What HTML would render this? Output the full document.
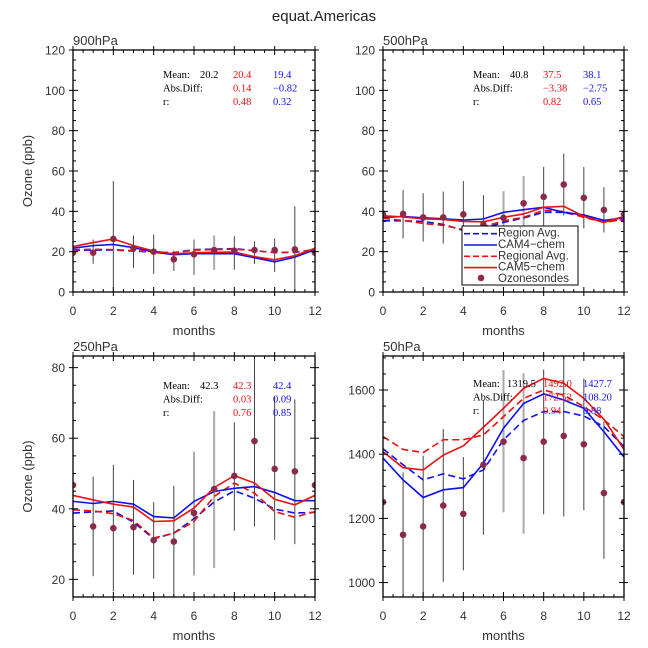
<!DOCTYPE html>
<html><head><meta charset="utf-8"><style>
html,body{margin:0;padding:0;background:#fff;}
svg{display:block;font-family:"Liberation Sans",sans-serif;}
</style></head><body>
<svg id="chart" width="648" height="648" viewBox="0 0 648 648" xmlns="http://www.w3.org/2000/svg">
<rect width="648" height="648" fill="#fff"/>
<text x="324" y="21" text-anchor="middle" font-size="15" fill="#222">equat.Americas</text>
</svg>
<script>
const months = [0,1,2,3,4,5,6,7,8,9,10,11,12];
// 900hPa
const p900Obs = [19.5,19.5,26.3,21.7,20,16.2,18.7,20.8,20.5,20.8,20.8,21.1,19.5];
const p900ErrHi = [null,26,55,28,28.5,20.5,26,28,27.7,25,26.5,42.5,null];
const p900ErrLo = [null,14,0,12,9,10.5,8.5,11,11,14,10,0,null];
const p900Cam5 = [22.5,24.5,26.3,23,20.3,18.9,19.5,19.7,19.8,17.5,16,18,21.7];
const p900Cam4 = [21.7,23,23.6,22,19.8,18.5,19,19,19,17,15,17.3,21];
const p900Cam5Reg = [21,21.2,21,20.5,20,19.3,20.8,21,21.3,20.5,19.5,19.8,21];
const p900Cam4Reg = [20.6,20.8,20.8,20.3,19.8,19.5,21,21.3,21.5,20.5,19.6,19.6,21];
// 500hPa
const p500Obs = [38.5,38.7,37,37,38.5,33.5,36.8,44,47.2,53.3,46.7,40.7,38.5];
const p500ErrHi = [null,50.6,49,49.8,55,48,50,57.5,62,68.6,62,52,null];
const p500ErrLo = [null,26.6,25,24,22,19,23,30,32,38,31.5,29.5,null];
const p500Cam5 = [37.8,37.2,36.3,36,35,34.8,37,38.7,42,42.5,37.5,34.5,37.5];
const p500Cam4 = [37,37.4,36.8,36.3,35.7,36.2,39.5,40.8,42,39.5,38.2,35.5,36.8];
const p500Cam5Reg = [36.5,35.5,34,33,31,32.3,35.3,37,40.5,40,37,34.5,36];
const p500Cam4Reg = [35.3,35.3,35,33.5,30.5,31.6,34.5,36.7,39.5,39.5,37.3,35.5,35.5];
// 250hPa
const p250Obs = [46.7,35,34.5,34.8,31.1,30.7,38.8,45.6,49.3,59.2,51.3,50.6,46.7];
const p250ErrHi = [null,49.1,52.5,48.2,41.9,46.5,56.2,67.7,64.5,83,71.8,71,null];
const p250ErrLo = [null,20.9,16.6,21.3,20.2,15,21.1,23.2,33.8,35,31.2,30,null];
const p250Cam5 = [43.8,42.5,41.3,40.5,36.4,36.6,40.2,46,49.4,47.3,42.7,41.1,43.8];
const p250Cam4 = [42.1,41.5,42.1,41.3,37.8,37.4,42.1,44.9,45.8,46.3,44.6,42.3,42.3];
const p250Cam5Reg = [39.7,39.4,38.6,36.7,31.7,33.1,36.4,43.5,47.3,44.4,39.2,37.6,39.2];
const p250Cam4Reg = [38.8,39.1,39.4,36.2,31.5,33.1,37.2,41.9,45.1,43,39.9,38.8,39];
// 50hPa
const p50Obs = [1251,1149,1175,1240,1214,1367,1439,1388,1439,1457,1431,1279,1251];
const p50ErrHi = [null,1343,1395,1478,1391,1569,1662,1652,1664,1703,1636,1502,null];
const p50ErrLo = [null,930,930,1002,1038,1149,1219,1152,1213,1206,1225,1074,null];
const p50Cam5 = [1408,1358,1351,1397,1426,1484,1543,1605,1636,1621,1574,1509,1415];
const p50Cam4 = [1388,1320,1265,1289,1296,1372,1481,1558,1588,1569,1543,1470,1391];
const p50Cam5Reg = [1455,1415,1405,1445,1445,1460,1517,1574,1600,1584,1548,1507,1455];
const p50Cam4Reg = [1417,1367,1320,1339,1323,1351,1445,1505,1533,1533,1519,1486,1424];
const xTicks = [0,2,4,6,8,10,12];
const yTicks900 = [0,20,40,60,80,100,120];
const yTicks250 = [20,40,60,80];
const yTicks50 = [1000,1200,1400,1600];
const grayBars = [6,7];

const NS='http://www.w3.org/2000/svg';
const svg=document.getElementById('chart');
function mk(tag,attrs,parent){const e=document.createElementNS(NS,tag);for(const k in attrs)e.setAttribute(k,attrs[k]);(parent||svg).appendChild(e);return e;}

function panel(cfg){
  const g=mk('g',{});
  
  
  const {x0,x1,y0,y1,vmin,vmax}=cfg;
  const sx=m=>x0+(x1-x0)*m/12;
  const sy=v=>y1-(y1-y0)*(v-vmin)/(vmax-vmin);
  const clip='clip-'+cfg.name;
  const cp=mk('clipPath',{id:clip},g);mk('rect',{x:x0,y:y0,width:x1-x0,height:y1-y0},cp);
  const pg=mk('g',{'clip-path':'url(#'+clip+')'},g);
  // error bars
  months.forEach((m,i)=>{if(cfg.hi[i]==null)return;
    const l=mk('line',{x1:sx(m),x2:sx(m),y1:sy(cfg.hi[i]),y2:sy(cfg.lo[i]),stroke:grayBars.includes(m)?'#aaa':'#444','stroke-width':grayBars.includes(m)?2:1},pg);
    
    
  });
  const line=(arr,col,dash,nm)=>{const p=mk('polyline',{points:arr.map((v,i)=>sx(months[i])+','+sy(v)).join(' '),fill:'none',stroke:col,'stroke-width':1.6,'stroke-dasharray':dash||'none'},pg);
    
    };
  line(cfg.c4r,'#1010ee','7,4','cam4-regional-line');
  line(cfg.c5r,'#e81010','7,4','cam5-regional-line');
  line(cfg.c4,'#1010ee',null,'cam4-line');
  line(cfg.c5,'#e81010',null,'cam5-line');
  months.forEach((m,i)=>{const c=mk('circle',{cx:sx(m),cy:sy(cfg.obs[i]),r:3.3,fill:'#8c2a4c'},pg);
    
    });
  // frame
  mk('rect',{x:x0,y:y0,width:x1-x0,height:y1-y0,fill:'none',stroke:'#000','stroke-width':1.3},g);
  // x ticks
  for(let m=0;m<=12;m+=0.5){const maj=xTicks.includes(m);const L=maj?5:3;
    mk('line',{x1:sx(m),x2:sx(m),y1:y1-L,y2:y1+(maj?4:0),stroke:'#000'},g);
    mk('line',{x1:sx(m),x2:sx(m),y1:y0+L,y2:y0-(maj?4:0),stroke:'#000'},g);}
  xTicks.forEach(m=>{const t=mk('text',{x:sx(m),y:y1+23,'text-anchor':'middle','font-size':12,fill:'#333'},g);t.textContent=m;
    
    });
  for(let v=Math.ceil(vmin/cfg.minor)*cfg.minor;v<=vmax;v+=cfg.minor){const maj=cfg.yt.includes(v);const L=maj?5:3;
    mk('line',{x1:x0-(maj?4:0),x2:x0+L,y1:sy(v),y2:sy(v),stroke:'#000'},g);
    mk('line',{x1:x1+(maj?4:0),x2:x1-L,y1:sy(v),y2:sy(v),stroke:'#000'},g);}
  cfg.yt.forEach(v=>{const t=mk('text',{x:x0-8,y:sy(v)+4.5,'text-anchor':'end','font-size':12,fill:'#333'},g);t.textContent=v;
    
    });
  const xt=mk('text',{x:(x0+x1)/2,y:y1+43,'text-anchor':'middle','font-size':13,fill:'#333'},g);xt.textContent='months';
  
  
  if(cfg.ytitle){const yt=mk('text',{x:0,y:0,'text-anchor':'middle','font-size':13,fill:'#333',transform:'translate(32,'+((y0+y1)/2)+') rotate(-90)'},g);yt.textContent='Ozone (ppb)';
    
    }
  const pt=mk('text',{x:x0,y:y0-5,'font-size':13,fill:'#333'},g);pt.textContent=cfg.title;
  
  
  // stats
  const s=cfg.stats, sxp=x0+90, syp=cfg.sy;
  const rows=[['Mean:',s[0],s[1],s[2]],['Abs.Diff:','',s[3],s[4]],['r:','',s[5],s[6]]];
  rows.forEach((r,i)=>{const yy=syp+i*13.5;
    [[sxp,r[0],'#000'],[sxp+cfg.mx,r[1],'#000'],[sxp+70,r[2],'#e81010'],[sxp+110,r[3],'#1010ee']].forEach(([xx,tx,col])=>{
      const t=mk('text',{x:xx,y:yy,'font-size':10.5,fill:col,'font-family':'Liberation Serif, serif'},g);t.textContent=tx;
      
      });});
}
panel({name:'panel-900hpa',title:'900hPa',x0:73,x1:315,y0:50,y1:292,vmin:0,vmax:120,yt:yTicks900,minor:5,ytitle:true,
  obs:p900Obs,hi:p900ErrHi,lo:p900ErrLo,c5:p900Cam5,c4:p900Cam4,c5r:p900Cam5Reg,c4r:p900Cam4Reg,
  stats:['20.2','20.4','19.4','0.14','\u22120.82','0.48','0.32'],sy:78,mx:37});
panel({name:'panel-500hpa',title:'500hPa',x0:383,x1:624,y0:50,y1:292,vmin:0,vmax:120,yt:yTicks900,minor:5,
  obs:p500Obs,hi:p500ErrHi,lo:p500ErrLo,c5:p500Cam5,c4:p500Cam4,c5r:p500Cam5Reg,c4r:p500Cam4Reg,
  stats:['40.8','37.5','38.1','\u22123.38','\u22122.75','0.82','0.65'],sy:78,mx:37});
panel({name:'panel-250hpa',title:'250hPa',x0:73,x1:315,y0:356,y1:597,vmin:15,vmax:83.3,yt:yTicks250,minor:5,ytitle:true,
  obs:p250Obs,hi:p250ErrHi,lo:p250ErrLo,c5:p250Cam5,c4:p250Cam4,c5r:p250Cam5Reg,c4r:p250Cam4Reg,
  stats:['42.3','42.3','42.4','0.03','0.09','0.76','0.85'],sy:389,mx:37});
panel({name:'panel-50hpa',title:'50hPa',x0:383,x1:624,y0:356,y1:597,vmin:955,vmax:1706,yt:yTicks50,minor:50,
  obs:p50Obs,hi:p50ErrHi,lo:p50ErrLo,c5:p50Cam5,c4:p50Cam4,c5r:p50Cam5Reg,c4r:p50Cam4Reg,
  stats:['1319.5','1492.0','1427.7','172.52','108.20','0.94','0.88'],sy:387,mx:34});
// legend
const lg=mk('g',{});


mk('rect',{x:462,y:226,width:116,height:59,fill:'#fff',stroke:'#000','stroke-width':1},lg);
const items=[['Region Avg.','#1010ee','6,3'],['CAM4\u2212chem','#1010ee',null],['Regional Avg.','#e81010','6,3'],['CAM5\u2212chem','#e81010',null],['Ozonesondes',null,null]];
items.forEach((it,i)=>{const yy=232.7+i*11.3;
  if(it[1])mk('line',{x1:464,x2:497,y1:yy+1,y2:yy+1,stroke:it[1],'stroke-width':1.6,'stroke-dasharray':it[2]||'none'},lg);
  else mk('circle',{cx:481,cy:yy,r:3.3,fill:'#8c2a4c'},lg);
  const t=mk('text',{x:498,y:yy+4,'font-size':11.5,fill:'#333'},lg);t.textContent=it[0];
  
  });
</script>
</body></html>
